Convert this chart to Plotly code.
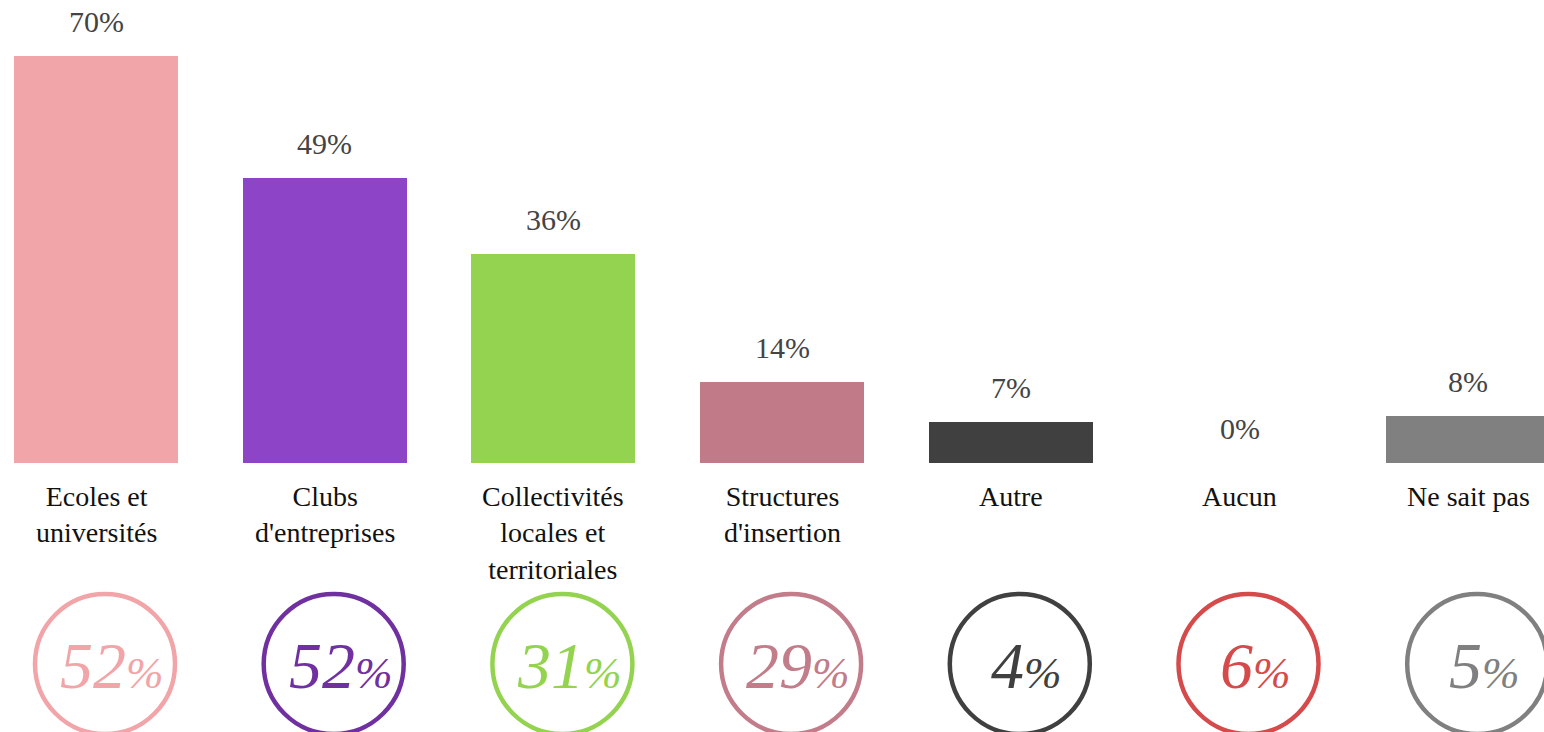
import plotly.graph_objects as go

# categories and values
categories = ["Ecoles et<br>universités", "Clubs<br>d'entreprises",
              "Collectivités<br>locales et<br>territoriales", "Structures<br>d'insertion",
              "Autre", "Aucun", "Ne sait pas"]
bar_values = [70, 49, 36, 14, 7, 0, 8]
circle_values = [52, 52, 31, 29, 4, 6, 5]
bar_colors = ["#F2A5A8", "#8E44C6", "#94D350", "#C07A88", "#404040", "#D54B4B", "#808080"]
circle_colors = ["#F2A5A8", "#7030A0", "#94D350", "#C27C8A", "#404040", "#D54B4B", "#808080"]

W, H = 1544, 732
step = 228.7          # px between category centres
first_center = 96     # px of first centre
base_px = 463         # px of y=0
px_per_unit = (463 - 56) / 70

x_left = -first_center / step
x_right = (W - first_center) / step
y_top = base_px / px_per_unit
y_bottom = -(H - base_px) / px_per_unit
circle_y = -(664 - base_px) / px_per_unit

xs = list(range(len(categories)))
serif = "Liberation Serif, Times New Roman, serif"

fig = go.Figure()
fig.add_trace(go.Bar(
    x=xs, y=bar_values, width=164 / step,
    marker=dict(color=bar_colors, line=dict(width=0)),
    hoverinfo="skip", showlegend=False,
))

annotations = []
shapes = []
for i, (cat, v, cv, cc) in enumerate(zip(categories, bar_values, circle_values, circle_colors)):
    # value above bar
    annotations.append(dict(x=i, y=v, text=f"{v}%", showarrow=False,
                            yanchor="bottom", yshift=16,
                            font=dict(family=serif, size=30, color="#444444")))
    # category label below
    annotations.append(dict(x=i, y=0, text=cat, showarrow=False,
                            yanchor="top", yshift=-16,
                            font=dict(family=serif, size=28, color="#111111")))
    # circle
    shapes.append(dict(type="circle", xref="x", yref="y",
                       xsizemode="pixel", ysizemode="pixel",
                       xanchor=i, yanchor=circle_y,
                       x0=-61, x1=79, y0=-70, y1=70,
                       line=dict(color=cc, width=4.5)))
    annotations.append(dict(x=i, y=circle_y, xshift=16, yshift=-1,
                            text=f"<i>{cv}<span style='font-size:45px'>%</span></i>",
                            showarrow=False, yanchor="middle",
                            font=dict(family=serif, size=66, color=cc)))

fig.update_layout(
    width=W, height=H,
    margin=dict(l=0, r=0, t=0, b=0),
    paper_bgcolor="white", plot_bgcolor="white",
    xaxis=dict(range=[x_left, x_right], visible=False, fixedrange=True),
    yaxis=dict(range=[y_bottom, y_top], visible=False, fixedrange=True),
    annotations=annotations, shapes=shapes,
    bargap=0,
)

fig.write_html("out.html", config={"displayModeBar": False},
               post_script="document.body.style.margin='0';")
